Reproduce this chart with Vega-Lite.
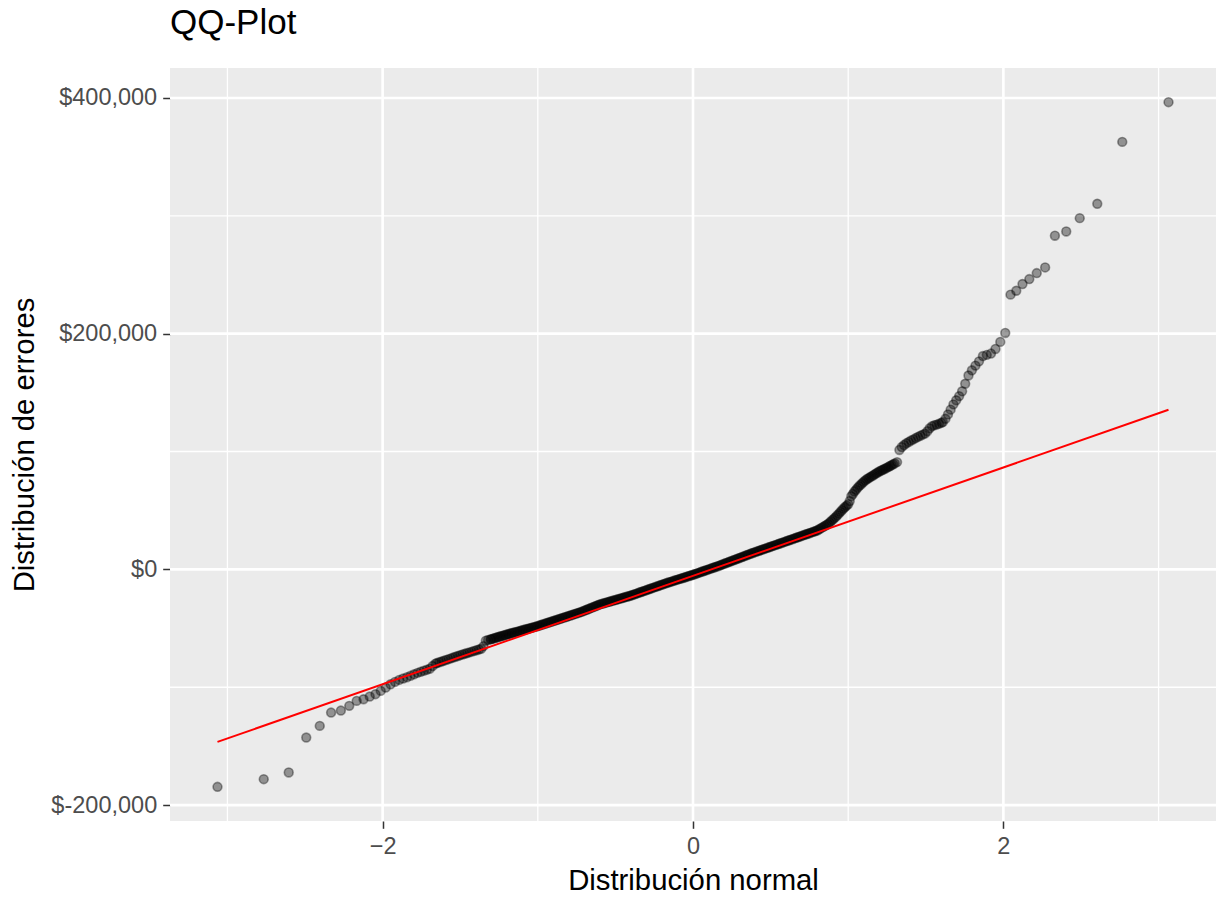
{
  "$schema": "https://vega.github.io/schema/vega-lite/v6.json",
  "width": 1046,
  "height": 753,
  "autosize": {"type": "none"},
  "padding": {"left": 170, "top": 68, "right": 12, "bottom": 100},
  "background": "white",
  "title": {"text": "QQ-Plot", "anchor": "start", "frame": "group", "font": "Liberation Sans", "fontSize": 35, "fontWeight": "normal", "color": "black", "offset": 26},
  "config": {
    "view": {"fill": "#EBEBEB", "stroke": null},
    "axis": {"domain": false, "grid": false, "labelFont": "Liberation Sans", "labelFontSize": 23.5, "labelColor": "#4D4D4D", "titleFont": "Liberation Sans", "titleFontSize": 29.3, "titleFontWeight": "normal", "titleColor": "black", "tickColor": "#333333", "tickSize": 7.3, "tickWidth": 1.5}
  },
  "resolve": {"axis": {"x": "independent", "y": "independent"}},
  "layer": [
    {
      "data": {"values": [{"gx": -3}, {"gx": -1}, {"gx": 1}, {"gx": 3}]},
      "mark": {"type": "rule", "color": "white", "strokeWidth": 1.3},
      "encoding": {
        "x": {"field": "gx", "type": "quantitative", "scale": {"domain": [-3.37, 3.37], "nice": false, "zero": false}, "axis": null}
      }
    },
    {
      "data": {"values": [{"gy": -100000}, {"gy": 100000}, {"gy": 300000}]},
      "mark": {"type": "rule", "color": "white", "strokeWidth": 1.3},
      "encoding": {
        "y": {"field": "gy", "type": "quantitative", "scale": {"domain": [-213500, 425400], "nice": false, "zero": false}, "axis": null}
      }
    },
    {
      "data": {"values": [{"gx": -2}, {"gx": 0}, {"gx": 2}]},
      "mark": {"type": "rule", "color": "white", "strokeWidth": 2.6},
      "encoding": {
        "x": {"field": "gx", "type": "quantitative", "scale": {"domain": [-3.37, 3.37], "nice": false, "zero": false}, "axis": null}
      }
    },
    {
      "data": {"values": [{"gy": -200000}, {"gy": 0}, {"gy": 200000}, {"gy": 400000}]},
      "mark": {"type": "rule", "color": "white", "strokeWidth": 2.6},
      "encoding": {
        "y": {"field": "gy", "type": "quantitative", "scale": {"domain": [-213500, 425400], "nice": false, "zero": false}, "axis": null}
      }
    },
    {
      "data": {"values": [
        {"x":-3.064,"y":-184500},{"x":-2.766,"y":-178000},{"x":-2.605,"y":-172300},{"x":-2.492,"y":-142700},{"x":-2.405,"y":-132800},{"x":-2.332,"y":-121500},{"x":-2.269,"y":-119800},{"x":-2.215,"y":-115800},{"x":-2.167,"y":-111600},{"x":-2.123,"y":-110200},{"x":-2.083,"y":-107900},{"x":-2.046,"y":-105900},{"x":-2.012,"y":-103100},{"x":-1.98,"y":-100300},{"x":-1.949,"y":-97500},{"x":-1.92,"y":-95500},{"x":-1.893,"y":-93800},{"x":-1.868,"y":-92600},{"x":-1.843,"y":-91500},{"x":-1.82,"y":-90300},{"x":-1.797,"y":-89000},{"x":-1.775,"y":-87800},{"x":-1.754,"y":-86900},{"x":-1.734,"y":-86000},{"x":-1.715,"y":-85200},{"x":-1.696,"y":-84300},{"x":-1.678,"y":-82000},{"x":-1.66,"y":-80000},
        {"x":-1.65,"y":-79500},{"x":-1.635,"y":-78800},{"x":-1.62,"y":-78200},{"x":-1.605,"y":-77500},{"x":-1.59,"y":-76800},{"x":-1.575,"y":-76200},{"x":-1.56,"y":-75500},{"x":-1.545,"y":-74800},{"x":-1.53,"y":-74100},{"x":-1.515,"y":-73500},{"x":-1.5,"y":-72800},{"x":-1.485,"y":-72200},{"x":-1.47,"y":-71600},{"x":-1.455,"y":-71000},{"x":-1.44,"y":-70400},{"x":-1.425,"y":-69800},{"x":-1.41,"y":-69200},{"x":-1.395,"y":-68600},{"x":-1.38,"y":-68000},{"x":-1.365,"y":-67400},{"x":-1.35,"y":-65100},{"x":-1.335,"y":-60500},{"x":-1.32,"y":-59900},{"x":-1.305,"y":-59400},
        {"x":-1.3,"y":-59200},{"x":-1.29,"y":-58800},{"x":-1.28,"y":-58400},{"x":-1.27,"y":-58000},{"x":-1.26,"y":-57600},{"x":-1.25,"y":-57200},{"x":-1.24,"y":-56800},{"x":-1.23,"y":-56500},{"x":-1.22,"y":-56100},{"x":-1.21,"y":-55700},{"x":-1.2,"y":-55300},{"x":-1.19,"y":-54900},{"x":-1.18,"y":-54600},{"x":-1.17,"y":-54200},{"x":-1.16,"y":-53800},{"x":-1.15,"y":-53500},{"x":-1.14,"y":-53100},{"x":-1.13,"y":-52800},{"x":-1.12,"y":-52400},{"x":-1.11,"y":-52100},{"x":-1.1,"y":-51700},{"x":-1.09,"y":-51300},{"x":-1.08,"y":-51000},{"x":-1.07,"y":-50600},{"x":-1.06,"y":-50300},{"x":-1.05,"y":-49900},{"x":-1.04,"y":-49500},{"x":-1.03,"y":-49200},{"x":-1.02,"y":-48800},{"x":-1.01,"y":-48500},{"x":-1,"y":-48100},
        {"x":-0.99,"y":-47700},{"x":-0.98,"y":-47200},{"x":-0.97,"y":-46800},{"x":-0.96,"y":-46400},{"x":-0.95,"y":-46000},{"x":-0.94,"y":-45500},{"x":-0.93,"y":-45100},{"x":-0.92,"y":-44700},{"x":-0.91,"y":-44200},{"x":-0.9,"y":-43800},{"x":-0.89,"y":-43400},{"x":-0.88,"y":-43000},{"x":-0.87,"y":-42500},{"x":-0.86,"y":-42100},{"x":-0.85,"y":-41700},{"x":-0.84,"y":-41200},{"x":-0.83,"y":-40800},{"x":-0.82,"y":-40400},{"x":-0.81,"y":-40000},{"x":-0.8,"y":-39500},{"x":-0.79,"y":-39100},{"x":-0.78,"y":-38700},{"x":-0.77,"y":-38200},{"x":-0.76,"y":-37800},{"x":-0.75,"y":-37400},{"x":-0.74,"y":-36900},{"x":-0.73,"y":-36500},{"x":-0.72,"y":-36100},
        {"x":-0.71,"y":-35600},{"x":-0.7,"y":-35000},{"x":-0.69,"y":-34500},{"x":-0.68,"y":-34000},{"x":-0.67,"y":-33400},{"x":-0.66,"y":-32900},{"x":-0.65,"y":-32400},{"x":-0.64,"y":-31800},{"x":-0.63,"y":-31300},{"x":-0.62,"y":-30800},{"x":-0.61,"y":-30200},{"x":-0.6,"y":-29700},
        {"x":-0.59,"y":-29300},{"x":-0.58,"y":-29000},{"x":-0.57,"y":-28600},{"x":-0.56,"y":-28200},{"x":-0.55,"y":-27800},{"x":-0.54,"y":-27500},{"x":-0.53,"y":-27100},{"x":-0.52,"y":-26700},{"x":-0.51,"y":-26300},{"x":-0.5,"y":-26000},{"x":-0.49,"y":-25600},{"x":-0.48,"y":-25200},{"x":-0.47,"y":-24800},{"x":-0.46,"y":-24500},{"x":-0.45,"y":-24100},{"x":-0.44,"y":-23700},{"x":-0.43,"y":-23300},{"x":-0.42,"y":-23000},{"x":-0.41,"y":-22600},{"x":-0.4,"y":-22200},
        {"x":-0.39,"y":-21700},{"x":-0.38,"y":-21300},{"x":-0.37,"y":-20800},{"x":-0.36,"y":-20400},{"x":-0.35,"y":-19900},{"x":-0.34,"y":-19400},{"x":-0.33,"y":-19000},{"x":-0.32,"y":-18500},{"x":-0.31,"y":-18100},{"x":-0.3,"y":-17600},{"x":-0.29,"y":-17100},{"x":-0.28,"y":-16700},{"x":-0.27,"y":-16200},{"x":-0.26,"y":-15700},{"x":-0.25,"y":-15300},{"x":-0.24,"y":-14800},{"x":-0.23,"y":-14400},{"x":-0.22,"y":-13900},{"x":-0.21,"y":-13400},{"x":-0.2,"y":-13000},{"x":-0.19,"y":-12500},{"x":-0.18,"y":-12100},{"x":-0.17,"y":-11600},
        {"x":-0.16,"y":-11200},{"x":-0.15,"y":-10800},{"x":-0.14,"y":-10400},{"x":-0.13,"y":-10000},{"x":-0.12,"y":-9500},{"x":-0.11,"y":-9100},{"x":-0.1,"y":-8700},{"x":-0.09,"y":-8300},{"x":-0.08,"y":-7900},{"x":-0.07,"y":-7500},{"x":-0.06,"y":-7100},{"x":-0.05,"y":-6700},{"x":-0.04,"y":-6200},{"x":-0.03,"y":-5800},{"x":-0.02,"y":-5400},{"x":-0.01,"y":-5000},{"x":0,"y":-4600},
        {"x":0.01,"y":-4100},{"x":0.02,"y":-3700},{"x":0.03,"y":-3200},{"x":0.04,"y":-2800},{"x":0.05,"y":-2300},{"x":0.06,"y":-1800},{"x":0.07,"y":-1400},{"x":0.08,"y":-900},{"x":0.09,"y":-500},{"x":0.1,"y":0},{"x":0.11,"y":400},{"x":0.12,"y":900},{"x":0.13,"y":1400},{"x":0.14,"y":1800},{"x":0.15,"y":2300},{"x":0.16,"y":2700},{"x":0.17,"y":3200},
        {"x":0.18,"y":3700},{"x":0.19,"y":4200},{"x":0.2,"y":4700},{"x":0.21,"y":5200},{"x":0.22,"y":5700},{"x":0.23,"y":6200},{"x":0.24,"y":6700},{"x":0.25,"y":7200},{"x":0.26,"y":7700},{"x":0.27,"y":8200},{"x":0.28,"y":8700},{"x":0.29,"y":9200},{"x":0.3,"y":9700},{"x":0.31,"y":10200},{"x":0.32,"y":10700},{"x":0.33,"y":11200},{"x":0.34,"y":11700},{"x":0.35,"y":12200},{"x":0.36,"y":12700},{"x":0.37,"y":13200},{"x":0.38,"y":13700},
        {"x":0.39,"y":14200},{"x":0.4,"y":14600},{"x":0.41,"y":15100},{"x":0.42,"y":15500},{"x":0.43,"y":16000},{"x":0.44,"y":16500},{"x":0.45,"y":16900},{"x":0.46,"y":17400},{"x":0.47,"y":17800},{"x":0.48,"y":18300},{"x":0.49,"y":18700},{"x":0.5,"y":19200},{"x":0.51,"y":19700},{"x":0.52,"y":20100},{"x":0.53,"y":20600},{"x":0.54,"y":21000},{"x":0.55,"y":21500},{"x":0.56,"y":22000},{"x":0.57,"y":22400},{"x":0.58,"y":22900},{"x":0.59,"y":23300},{"x":0.6,"y":23800},
        {"x":0.61,"y":24300},{"x":0.62,"y":24700},{"x":0.63,"y":25200},{"x":0.64,"y":25600},{"x":0.65,"y":26100},{"x":0.66,"y":26600},{"x":0.67,"y":27000},{"x":0.68,"y":27500},{"x":0.69,"y":27900},{"x":0.7,"y":28400},{"x":0.71,"y":28900},{"x":0.72,"y":29300},{"x":0.73,"y":29800},{"x":0.74,"y":30200},{"x":0.75,"y":30700},{"x":0.76,"y":31200},{"x":0.77,"y":31600},{"x":0.78,"y":32100},{"x":0.79,"y":32500},{"x":0.8,"y":33000},
        {"x":0.81,"y":33800},{"x":0.82,"y":34600},{"x":0.83,"y":35400},{"x":0.84,"y":36100},{"x":0.85,"y":36900},{"x":0.86,"y":37700},{"x":0.87,"y":38500},{"x":0.88,"y":39700},{"x":0.89,"y":40900},{"x":0.9,"y":42100},{"x":0.91,"y":43300},{"x":0.92,"y":44500},{"x":0.93,"y":45900},{"x":0.94,"y":47300},{"x":0.95,"y":48800},{"x":0.96,"y":50200},{"x":0.97,"y":51600},{"x":0.98,"y":52900},{"x":0.99,"y":54100},{"x":1,"y":55300},{"x":1.01,"y":58000},{"x":1.02,"y":62100},{"x":1.03,"y":64000},{"x":1.04,"y":66000},{"x":1.05,"y":67500},{"x":1.06,"y":69100},{"x":1.07,"y":70600},{"x":1.08,"y":71800},{"x":1.09,"y":73100},{"x":1.1,"y":74300},{"x":1.11,"y":75500},{"x":1.12,"y":76500},{"x":1.13,"y":77300},{"x":1.14,"y":78100},{"x":1.15,"y":78900},{"x":1.16,"y":79700},{"x":1.17,"y":80600},{"x":1.18,"y":81400},{"x":1.19,"y":82200},{"x":1.2,"y":83000},{"x":1.21,"y":83700},{"x":1.22,"y":84300},{"x":1.23,"y":85000},{"x":1.24,"y":85600},{"x":1.25,"y":86300},{"x":1.26,"y":87000},{"x":1.27,"y":87700},{"x":1.28,"y":88400},{"x":1.29,"y":89200},{"x":1.3,"y":89900},
        {"x":1.315,"y":91000},{"x":1.33,"y":101300},{"x":1.345,"y":103800},{"x":1.36,"y":105500},{"x":1.375,"y":107000},{"x":1.39,"y":108100},{"x":1.405,"y":109300},{"x":1.42,"y":110300},{"x":1.435,"y":111400},{"x":1.45,"y":112400},{"x":1.465,"y":113400},{"x":1.48,"y":114300},{"x":1.495,"y":115200},{"x":1.51,"y":117200},{"x":1.525,"y":119700},{"x":1.54,"y":121500},{"x":1.555,"y":122300},{"x":1.57,"y":122800},{"x":1.585,"y":123500},{"x":1.6,"y":124300},
        {"x":1.61,"y":125000},{"x":1.627,"y":127800},{"x":1.643,"y":131500},{"x":1.66,"y":135500},{"x":1.678,"y":140000},{"x":1.696,"y":143500},{"x":1.715,"y":147000},{"x":1.734,"y":151100},{"x":1.754,"y":157500},{"x":1.775,"y":164500},{"x":1.797,"y":168900},{"x":1.82,"y":172900},{"x":1.843,"y":176500},{"x":1.868,"y":181000},{"x":1.893,"y":182000},{"x":1.92,"y":183100},{"x":1.949,"y":187000},{"x":1.98,"y":193000},{"x":2.012,"y":200600},{"x":2.046,"y":233100},{"x":2.083,"y":236400},{"x":2.123,"y":242100},{"x":2.167,"y":246300},{"x":2.215,"y":251400},{"x":2.269,"y":256200},{"x":2.332,"y":283100},{"x":2.405,"y":286700},{"x":2.492,"y":298000},{"x":2.605,"y":310200},{"x":2.766,"y":362700},{"x":3.064,"y":396400}
      ]},
      "mark": {"type": "point", "filled": true, "fill": "black", "stroke": "black", "fillOpacity": 0.38, "strokeOpacity": 0.38, "strokeWidth": 1.6, "size": 78},
      "encoding": {
        "x": {"field": "x", "type": "quantitative", "scale": {"domain": [-3.37, 3.37], "nice": false, "zero": false},
              "axis": {"orient": "bottom", "values": [-2, 0, 2], "title": "Distribución normal", "labelPadding": 6, "titlePadding": 9}},
        "y": {"field": "y", "type": "quantitative", "scale": {"domain": [-213500, 425400], "nice": false, "zero": false},
              "axis": {"orient": "left", "values": [-200000, 0, 200000, 400000], "title": "Distribución de errores", "labelPadding": 6, "titlePadding": 11,
                       "labelExpr": "datum.value < 0 ? '$-' + format(-datum.value, ',') : '$' + format(datum.value, ',')"}}
      }
    },
    {
      "data": {"values": [{"x": -3.064, "y": -146400}, {"x": 3.064, "y": 135400}]},
      "mark": {"type": "line", "color": "#FF0000", "strokeWidth": 2},
      "encoding": {
        "x": {"field": "x", "type": "quantitative", "scale": {"domain": [-3.37, 3.37], "nice": false, "zero": false}, "axis": null},
        "y": {"field": "y", "type": "quantitative", "scale": {"domain": [-213500, 425400], "nice": false, "zero": false}, "axis": null}
      }
    }
  ]
}
